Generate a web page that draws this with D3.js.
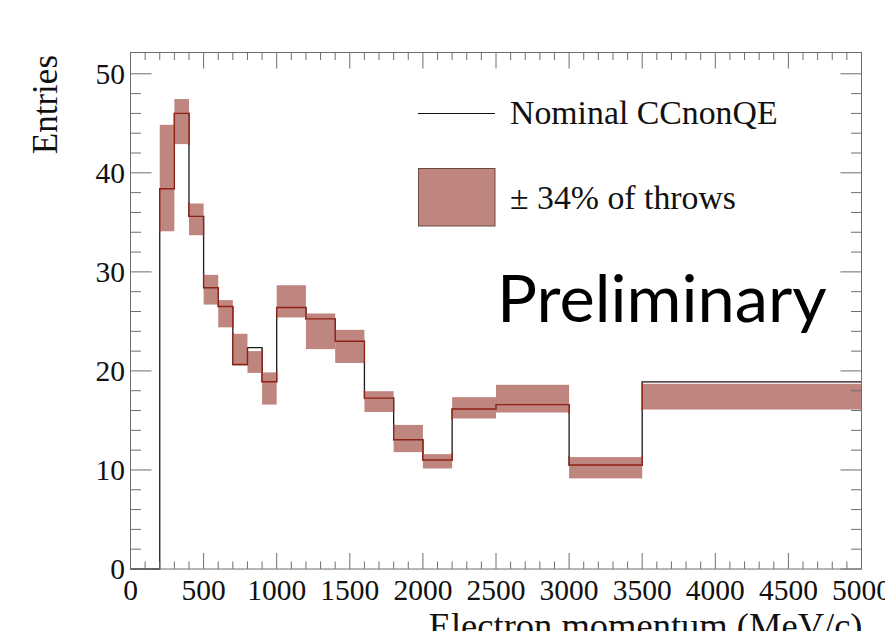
<!DOCTYPE html>
<html>
<head>
<meta charset="utf-8">
<script src="https://cdn.jsdelivr.net/npm/d3@7"></script>
<style>
  html, body { margin: 0; padding: 0; background: #fff; }
  svg { display: block; }
</style>
</head>
<body>
<svg id="chart" width="885" height="631"></svg>
<script>
// Bin edges of the electron momentum histogram (MeV/c)
const binEdges = [0, 200, 300, 400, 500, 600, 700, 800, 900, 1000, 1200, 1400, 1600, 1800, 2000, 2200, 2500, 3000, 3500, 5000];
// Nominal CCnonQE prediction, one value per bin
const nominal = [0, 38.4, 46.0, 35.6, 28.4, 26.5, 20.65, 22.35, 18.9, 26.4, 25.25, 23.0, 17.25, 13.05, 11.0, 16.15, 16.6, 10.5, 18.9];
// ±34% spread of the throws around the central value (null = no band)
const bandLow  = [null, 34.1, 42.9, 33.7, 26.7, 24.4, 20.6, 19.8, 16.6, 25.4, 22.2, 20.8, 15.85, 11.8, 10.15, 15.2, 15.8, 9.15, 16.1];
const bandHigh = [null, 44.85, 47.45, 36.9, 29.7, 27.15, 23.75, 22.0, 19.85, 28.65, 25.8, 24.15, 17.95, 14.55, 11.6, 17.35, 18.6, 11.3, 18.7];

const xMajorTicks = [0, 500, 1000, 1500, 2000, 2500, 3000, 3500, 4000, 4500, 5000];
const yMajorTicks = [0, 10, 20, 30, 40, 50];
const xDomain = [0, 5000];
const yDomain = [0, 52.15];

const frame = { left: 130.5, right: 861.5, top: 52.5, bottom: 569 };
const bandColor = "#bf8680";
const centralColor = "#8e2214";
const axisColor = "#6e6e6e";

const svg = d3.select("#chart");
const x = d3.scaleLinear().domain(xDomain).range([frame.left, frame.right]);
const y = d3.scaleLinear().domain(yDomain).range([frame.bottom, frame.top]);

const xMinorTicks = d3.range(xDomain[0], xDomain[1] + 1, 100).filter(v => v % 500 !== 0);
const yMinorTicks = d3.range(0, 52, 2).filter(v => v % 10 !== 0);

// histogram as a step line
const stepPoints = nominal.map((v, i) => [binEdges[i], v]);
stepPoints.push([binEdges[binEdges.length - 1], nominal[nominal.length - 1]]);
const step = d3.line().x(d => x(d[0])).y(d => y(d[1])).curve(d3.curveStepAfter);

const bins = nominal.map((v, i) => ({ x0: binEdges[i], x1: binEdges[i + 1], lo: bandLow[i], hi: bandHigh[i] }))
  .filter(b => b.lo !== null);

// clip region made of the band boxes: the central line is shown in red inside them
const defs = svg.append("defs");
defs.append("clipPath").attr("id", "bandClip")
  .selectAll("rect").data(bins).join("rect")
  .attr("x", d => x(d.x0) - 1)
  .attr("width", d => x(d.x1) - x(d.x0) + 2)
  .attr("y", d => y(d.hi) - 1)
  .attr("height", d => y(d.lo) - y(d.hi) + 2);

const plot = svg.append("g");

// nominal histogram (black)
plot.append("path")
  .attr("d", step(stepPoints))
  .attr("fill", "none")
  .attr("stroke", "#1a1a1a")
  .attr("stroke-width", 1.3);

// throw bands
plot.selectAll("rect.band").data(bins).join("rect")
  .attr("class", "band")
  .attr("x", d => x(d.x0))
  .attr("width", d => x(d.x1) - x(d.x0))
  .attr("y", d => y(d.hi))
  .attr("height", d => y(d.lo) - y(d.hi))
  .attr("fill", bandColor);

// central line inside the bands
plot.append("path")
  .attr("d", step(stepPoints))
  .attr("fill", "none")
  .attr("stroke", centralColor)
  .attr("stroke-width", 1.4)
  .attr("clip-path", "url(#bandClip)");

// frame
svg.append("rect")
  .attr("x", frame.left).attr("y", frame.top)
  .attr("width", frame.right - frame.left)
  .attr("height", frame.bottom - frame.top)
  .attr("fill", "none").attr("stroke", axisColor).attr("stroke-width", 1);

// ticks on all four sides
const tickLayer = svg.append("g").attr("stroke", axisColor).attr("stroke-width", 1);
function xTicks(values, len) {
  tickLayer.selectAll(null).data(values).join("line")
    .attr("x1", d => x(d)).attr("x2", d => x(d))
    .attr("y1", frame.bottom).attr("y2", frame.bottom - len);
  tickLayer.selectAll(null).data(values).join("line")
    .attr("x1", d => x(d)).attr("x2", d => x(d))
    .attr("y1", frame.top).attr("y2", frame.top + len);
}
function yTicks(values, len) {
  tickLayer.selectAll(null).data(values).join("line")
    .attr("y1", d => y(d)).attr("y2", d => y(d))
    .attr("x1", frame.left).attr("x2", frame.left + len);
  tickLayer.selectAll(null).data(values).join("line")
    .attr("y1", d => y(d)).attr("y2", d => y(d))
    .attr("x1", frame.right).attr("x2", frame.right - len);
}
xTicks(xMajorTicks, 16);
xTicks(xMinorTicks, 7.5);
yTicks(yMajorTicks, 21);
yTicks(yMinorTicks, 10.5);

// tick labels
const serif = "'Liberation Serif', 'DejaVu Serif', serif";
svg.append("g").selectAll("text").data(xMajorTicks).join("text")
  .attr("x", d => x(d)).attr("y", 599.5)
  .attr("text-anchor", "middle")
  .attr("font-family", serif).attr("font-size", 29.5).attr("fill", "#111")
  .text(d3.format("d"));
svg.append("g").selectAll("text").data(yMajorTicks).join("text")
  .attr("x", 125).attr("y", d => y(d) + 10)
  .attr("text-anchor", "end")
  .attr("font-family", serif).attr("font-size", 29.5).attr("fill", "#111")
  .text(d3.format("d"));

// axis titles
svg.append("text")
  .attr("x", frame.right + 1).attr("y", 638)
  .attr("text-anchor", "end")
  .attr("font-family", serif).attr("font-size", 36.5).attr("fill", "#111")
  .text("Electron momentum (MeV/c)");
svg.append("text")
  .attr("transform", "translate(57,55) rotate(-90)")
  .attr("text-anchor", "end")
  .attr("font-family", serif).attr("font-size", 35).attr("fill", "#111")
  .text("Entries");

// legend
const legend = svg.append("g");
legend.append("line")
  .attr("x1", 418).attr("x2", 495).attr("y1", 113.5).attr("y2", 113.5)
  .attr("stroke", "#111").attr("stroke-width", 1.2);
legend.append("text")
  .attr("x", 510).attr("y", 123.5)
  .attr("font-family", serif).attr("font-size", 33.8).attr("fill", "#111")
  .text("Nominal CCnonQE");
legend.append("rect")
  .attr("x", 418.5).attr("y", 168.5).attr("width", 76.5).attr("height", 57.5)
  .attr("fill", bandColor).attr("stroke", "#6a4a47").attr("stroke-width", 1);
legend.append("text")
  .attr("x", 510).attr("y", 208.5)
  .attr("font-family", serif).attr("font-size", 33.8).attr("fill", "#111")
  .text("\u00b1 34% of throws");

// preliminary stamp
svg.append("text")
  .attr("x", 497).attr("y", 322)
  .attr("font-family", "Lato, 'Open Sans', sans-serif").attr("font-size", 66.8).attr("fill", "#000")
  .text("Preliminary");
</script>
</body>
</html>
